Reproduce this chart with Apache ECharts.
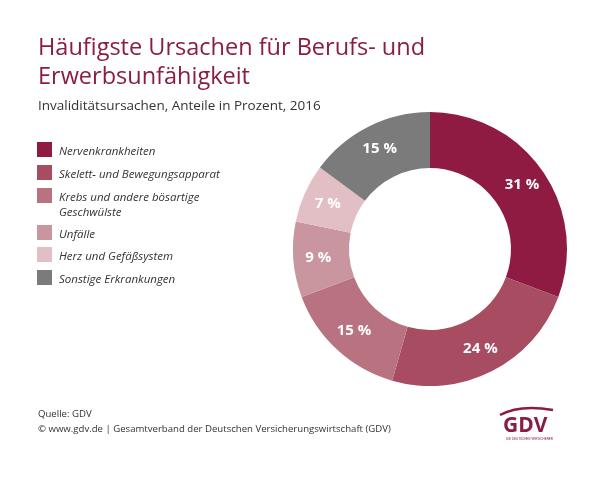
<!DOCTYPE html>
<html><head><meta charset="utf-8">
<script src="https://cdn.jsdelivr.net/npm/echarts@6/dist/echarts.min.js"></script>
<style>html,body{margin:0;padding:0;background:#fff}#c{width:613px;height:480px}</style>
</head><body><div id="c"></div>
<script>
const categories = ["Nervenkrankheiten","Skelett- und Bewegungsapparat","Krebs und andere bösartige Geschwülste","Unfälle","Herz und Gefäßsystem","Sonstige Erkrankungen"];
const legendLabels = ["Nervenkrankheiten","Skelett- und Bewegungsapparat","Krebs und andere bösartige\nGeschwülste","Unfälle","Herz und Gefäßsystem","Sonstige Erkrankungen"];
const values = [31,24,15,9,7,15];
const colors = ["#8f1b42","#a84c62","#b97380","#c9959f","#e2bfc5","#7b7b7b"];

const chart = echarts.init(document.getElementById('c'));
const legendY = [142,165,188,225,247,270];
const legendGraphics = [];
categories.forEach((c,i)=>{
  legendGraphics.push({type:'rect',left:37,top:legendY[i],shape:{width:15,height:15},style:{fill:colors[i]}});
  legendGraphics.push({type:'text',left:59,top:legendY[i]+2,style:{text:legendLabels[i],font:'italic 11.5px "Open Sans", sans-serif',fill:'#333',lineHeight:15}});
});
chart.setOption({
  animation:false,
  graphic:[
    {type:'text',left:38,top:34,style:{text:'Häufigste Ursachen für Berufs- und\nErwerbsunfähigkeit',font:'23.5px "Open Sans", sans-serif',fill:'#8a1c45',lineHeight:29}},
    {type:'text',left:38,top:99,style:{text:'Invaliditätsursachen, Anteile in Prozent, 2016',font:'13.5px "Open Sans", sans-serif',fill:'#333'}},
    ...legendGraphics,
    {type:'text',left:38,top:407,style:{text:'Quelle: GDV\n© www.gdv.de | Gesamtverband der Deutschen Versicherungswirtschaft (GDV)',font:'9.6px "Open Sans", sans-serif',fill:'#333',lineHeight:15}},
    {type:'bezierCurve',shape:{x1:500,y1:415,cpx1:520,cpy1:404,x2:553,y2:410},style:{stroke:'#8a1c45',lineWidth:2.5,fill:null}},
    {type:'text',left:503,top:416,style:{text:'GDV',font:'bold 21px "Open Sans", sans-serif',fill:'#8a1c45'}},
    {type:'text',left:506,top:438,style:{text:'DIE DEUTSCHEN VERSICHERER',font:'3px sans-serif',fill:'#8a1c45'}}
  ],
  series:[{
    type:'pie',
    center:[430,249],
    radius:[81,137],
    startAngle:90,
    clockwise:true,
    silent:true,
    label:{position:'inside',formatter:'{c} %',color:'#fff',fontWeight:'bold',fontSize:15,fontFamily:'"Open Sans", sans-serif'},
    labelLine:{show:false},
    itemStyle:{borderWidth:0},
    data:categories.map((c,i)=>({name:c,value:values[i],itemStyle:{color:colors[i]}}))
  }]
});
</script></body></html>
